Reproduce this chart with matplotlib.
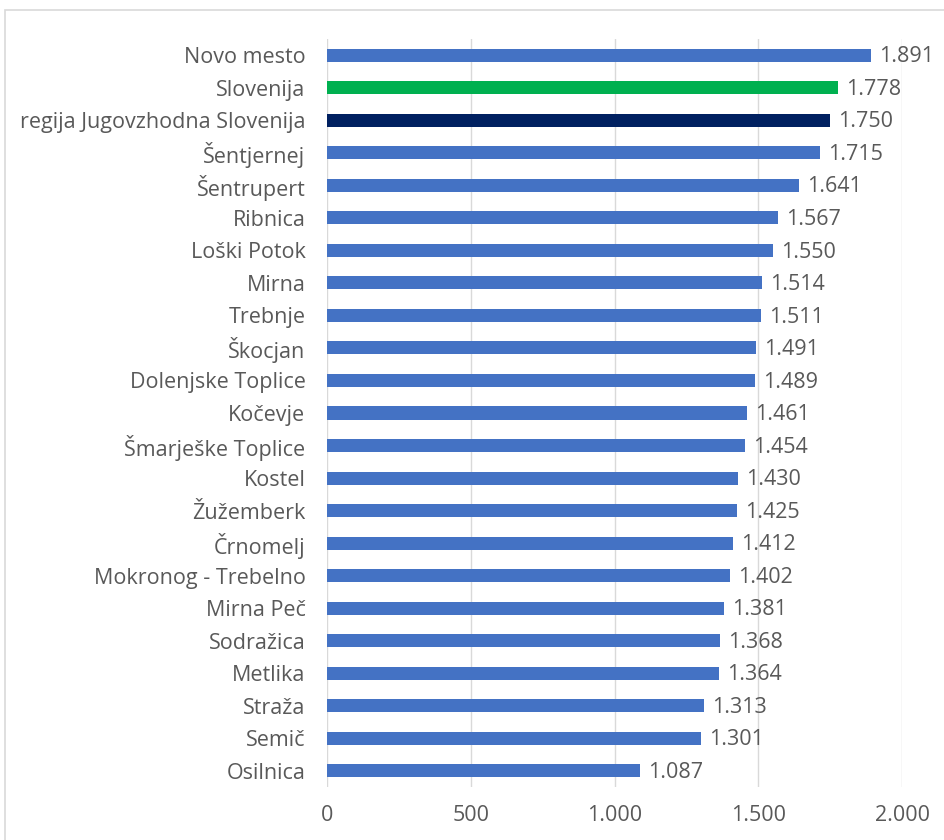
import matplotlib
matplotlib.use('Agg')
import matplotlib.pyplot as plt
from matplotlib.patches import Rectangle

categories = ['Novo mesto', 'Slovenija', 'regija Jugovzhodna Slovenija', 'Šentjernej',
              'Šentrupert', 'Ribnica', 'Loški Potok', 'Mirna', 'Trebnje', 'Škocjan',
              'Dolenjske Toplice', 'Kočevje', 'Šmarješke Toplice', 'Kostel', 'Žužemberk',
              'Črnomelj', 'Mokronog - Trebelno', 'Mirna Peč', 'Sodražica', 'Metlika',
              'Straža', 'Semič', 'Osilnica']
values = [1891, 1778, 1750, 1715, 1641, 1567, 1550, 1514, 1511, 1491, 1489, 1461,
          1454, 1430, 1425, 1412, 1402, 1381, 1368, 1364, 1313, 1301, 1087]
ticks = [0, 500, 1000, 1500, 2000]

blue = '#4472C4'
colors = [blue] * len(categories)
colors[1] = '#00B050'
colors[2] = '#002060'
text_col = '#595959'

def fmt(v):
    return f'{v:,}'.replace(',', '.')

plt.rcParams['font.family'] = ['Open Sans', 'DejaVu Sans']
fs = 15.5

fig = plt.figure(figsize=(9.45, 8.4), dpi=100)
fig.patches.append(Rectangle((5 / 945, -0.1), 1.1, 1 - 10 / 840 + 0.1, transform=fig.transFigure,
                             fill=False, edgecolor='#d9d9d9', linewidth=1.2))
ax = fig.add_axes([327 / 945, 53 / 840, 575 / 945, 748 / 840])

y = list(range(len(categories)))
ax.barh(y, values, height=0.4, color=colors, zorder=3)
for yi, v in zip(y, values):
    ax.text(v + 28, yi + 0.05, fmt(v), va='center', ha='left', fontsize=fs, color=text_col)

ax.set_ylim(len(categories) - 0.5, -0.5)
ax.set_xlim(0, 2000)
ax.set_yticks(y)
ax.set_yticklabels(categories, fontsize=fs, color=text_col)
ax.set_xticks(ticks)
ax.set_xticklabels([fmt(t) for t in ticks], fontsize=fs, color=text_col)
ax.tick_params(length=0)
ax.tick_params(axis='x', pad=13)
ax.tick_params(axis='y', pad=15.5)
ax.grid(axis='x', color='#d9d9d9', linewidth=1, zorder=0)
for s in ax.spines.values():
    s.set_visible(False)

fig.savefig('out.png', dpi=100)
